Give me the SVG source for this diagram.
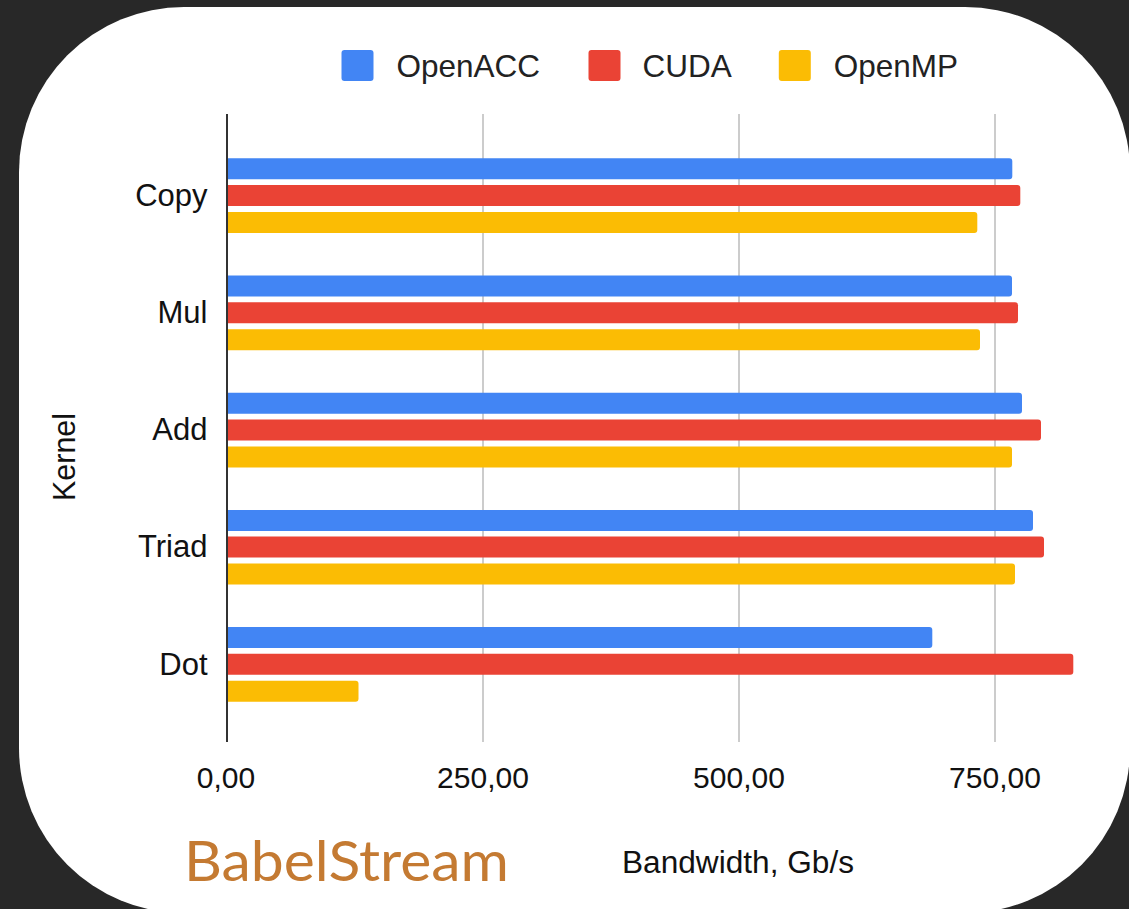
<svg xmlns="http://www.w3.org/2000/svg" width="1129" height="909" viewBox="0 0 1129 909">
<style>
.lbl{font-family:"Liberation Sans",Arial,sans-serif;fill:#111;}
.cat{font-size:31px;text-anchor:end;}
.tick{font-size:30px;text-anchor:middle;}
.leg{font-size:31.5px;fill:#222;}
.grid{stroke:#cccccc;stroke-width:2;}
.b{fill:#4285F4;}
.r{fill:#EA4335;}
.y{fill:#FBBC04;}
</style>
<rect x="0" y="0" width="1129" height="909" fill="#282828"/>
<rect x="19" y="7" width="1111" height="906" rx="165" ry="165" fill="#ffffff"/>
<g id="legend">
<rect class="b" x="341.5" y="50" width="32" height="31" rx="3"/>
<text class="lbl leg" x="396.5" y="77">OpenACC</text>
<rect class="r" x="588.5" y="50" width="32" height="31" rx="3"/>
<text class="lbl leg" x="642.6" y="77">CUDA</text>
<rect class="y" x="778.8" y="50" width="32" height="31" rx="3"/>
<text class="lbl leg" x="833.8" y="77">OpenMP</text>
</g>
<g id="gridlines">
<line class="grid" x1="483" y1="114" x2="483" y2="742"/>
<line class="grid" x1="739" y1="114" x2="739" y2="742"/>
<line class="grid" x1="995" y1="114" x2="995" y2="742"/>
</g>
<g id="copy">
<path class="b" d="M227,158.3 H1009.3 a3,3 0 0 1 3,3 V176.3 a3,3 0 0 1 -3,3 H227 Z"/>
<path class="r" d="M227,185 H1017.3 a3,3 0 0 1 3,3 V203 a3,3 0 0 1 -3,3 H227 Z"/>
<path class="y" d="M227,212 H974.3 a3,3 0 0 1 3,3 V230 a3,3 0 0 1 -3,3 H227 Z"/>
<text class="lbl cat" x="207.5" y="205.7">Copy</text>
</g>
<g id="mul">
<path class="b" d="M227,275.5 H1009 a3,3 0 0 1 3,3 V293.5 a3,3 0 0 1 -3,3 H227 Z"/>
<path class="r" d="M227,302.2 H1015 a3,3 0 0 1 3,3 V320.2 a3,3 0 0 1 -3,3 H227 Z"/>
<path class="y" d="M227,329.2 H977 a3,3 0 0 1 3,3 V347.2 a3,3 0 0 1 -3,3 H227 Z"/>
<text class="lbl cat" x="207.5" y="322.9">Mul</text>
</g>
<g id="add">
<path class="b" d="M227,392.7 H1019 a3,3 0 0 1 3,3 V410.7 a3,3 0 0 1 -3,3 H227 Z"/>
<path class="r" d="M227,419.4 H1038 a3,3 0 0 1 3,3 V437.4 a3,3 0 0 1 -3,3 H227 Z"/>
<path class="y" d="M227,446.4 H1009 a3,3 0 0 1 3,3 V464.4 a3,3 0 0 1 -3,3 H227 Z"/>
<text class="lbl cat" x="207.5" y="440.1">Add</text>
</g>
<g id="triad">
<path class="b" d="M227,509.9 H1030 a3,3 0 0 1 3,3 V527.9 a3,3 0 0 1 -3,3 H227 Z"/>
<path class="r" d="M227,536.6 H1041 a3,3 0 0 1 3,3 V554.6 a3,3 0 0 1 -3,3 H227 Z"/>
<path class="y" d="M227,563.6 H1012 a3,3 0 0 1 3,3 V581.6 a3,3 0 0 1 -3,3 H227 Z"/>
<text class="lbl cat" x="207.5" y="557.3">Triad</text>
</g>
<g id="dot">
<path class="b" d="M227,627.1 H929.3 a3,3 0 0 1 3,3 V645.1 a3,3 0 0 1 -3,3 H227 Z"/>
<path class="r" d="M227,653.8 H1070.3 a3,3 0 0 1 3,3 V671.8 a3,3 0 0 1 -3,3 H227 Z"/>
<path class="y" d="M227,680.8 H355.5 a3,3 0 0 1 3,3 V698.8 a3,3 0 0 1 -3,3 H227 Z"/>
<text class="lbl cat" x="207.5" y="674.5">Dot</text>
</g>
<g id="axes">
<line x1="227" y1="114" x2="227" y2="742" stroke="#333333" stroke-width="2"/>
<text class="lbl tick" x="226" y="788">0,00</text>
<text class="lbl tick" x="483" y="788">250,00</text>
<text class="lbl tick" x="739" y="788">500,00</text>
<text class="lbl tick" x="995" y="788">750,00</text>
<text class="lbl" font-size="30.5" text-anchor="middle" transform="translate(75,457) rotate(-90)">Kernel</text>
<text class="lbl" font-size="31" x="622" y="873" textLength="232" lengthAdjust="spacingAndGlyphs">Bandwidth, Gb/s</text>
</g>
<text id="title" x="184" y="881" font-family="Lato,'Open Sans',sans-serif" font-size="57" fill="#C47A32" textLength="325" lengthAdjust="spacingAndGlyphs">BabelStream</text>
</svg>
